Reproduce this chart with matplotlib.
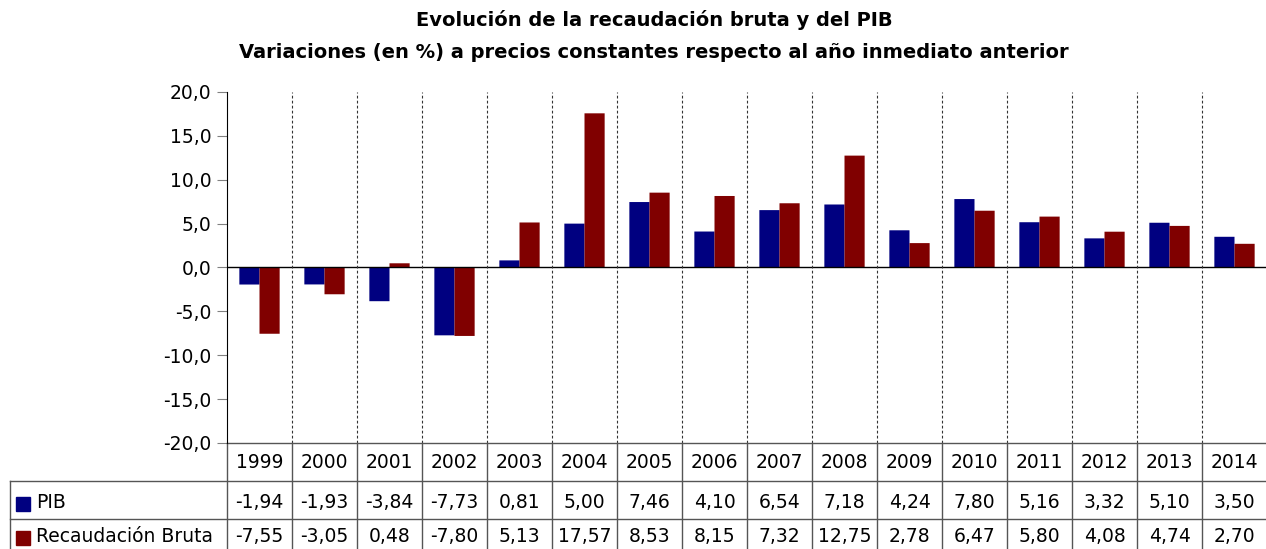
import numpy as np
import matplotlib.pyplot as plt
from matplotlib.patches import Rectangle
from matplotlib.transforms import blended_transform_factory

plt.rcParams['font.family'] = ['DejaVu Sans']

years = ["1999", "2000", "2001", "2002", "2003", "2004", "2005", "2006",
         "2007", "2008", "2009", "2010", "2011", "2012", "2013", "2014"]
pib = [-1.94, -1.93, -3.84, -7.73, 0.81, 5.00, 7.46, 4.10,
       6.54, 7.18, 4.24, 7.80, 5.16, 3.32, 5.10, 3.50]
recaudacion = [-7.55, -3.05, 0.48, -7.80, 5.13, 17.57, 8.53, 8.15,
               7.32, 12.75, 2.78, 6.47, 5.80, 4.08, 4.74, 2.70]
series_names = ["PIB", "Recaudación Bruta"]
colors = ["#000080", "#800000"]
yticks = [-20, -15, -10, -5, 0, 5, 10, 15, 20]

W, H = 1266, 549


def fy(py):
    return 1 - py / H


def fmt(v, d=2):
    return f"{v:.{d}f}".replace('.', ',')


fig = plt.figure(figsize=(W / 100, H / 100), dpi=100)
ax = fig.add_axes([227 / W, fy(443), 1040 / W, 351 / H])

x = np.arange(len(years))
w = 0.31
ax.bar(x - w / 2, pib, w, color=colors[0], linewidth=0, snap=False)
ax.bar(x + w / 2, recaudacion, w, color=colors[1], linewidth=0, snap=False)

ax.set_xlim(-0.5, len(years) - 0.5)
ax.set_ylim(-20, 20)
ax.set_yticks(yticks)
ax.set_yticklabels([fmt(t, 1) for t in yticks])
ax.set_xticks([])
ax.axhline(0, color='black', lw=1)
for b in np.arange(0.5, len(years) - 0.5):
    ax.axvline(b, color='#333333', ls=(0, (2.5, 2)), lw=0.8)
for s in ['top', 'right', 'bottom']:
    ax.spines[s].set_visible(False)
ax.spines['left'].set_color('black')
ax.tick_params(axis='y', direction='out', length=7, color='#808080',
               labelsize=13.5, pad=4)

# data table below the chart
tr = blended_transform_factory(ax.transData, fig.transFigure)
lc = '#555555'
label_left = -0.5 - (227 - 10) / 65
right = len(years) - 0.5
ax.plot([-0.5, right], [fy(443), fy(443)], color=lc, lw=1, transform=tr, clip_on=False)
for py in (481, 519):
    ax.plot([label_left, right], [fy(py), fy(py)], color=lc, lw=1, transform=tr, clip_on=False)
for b in np.arange(-0.5, len(years)):
    ax.plot([b, b], [fy(443), 0], color=lc, lw=1, transform=tr, clip_on=False)
ax.plot([label_left, label_left], [fy(481), 0], color=lc, lw=1, transform=tr, clip_on=False)

for i, yr in enumerate(years):
    ax.text(i, fy(463), yr, ha='center', va='center', fontsize=13.5, transform=tr)
    ax.text(i, fy(503), fmt(pib[i]), ha='center', va='center', fontsize=13.5, transform=tr)
    ax.text(i, fy(536), fmt(recaudacion[i]), ha='center', va='center', fontsize=13.5, transform=tr)

for j, (name, c) in enumerate(zip(series_names, colors)):
    cy = 504 + 34 * j
    fig.add_artist(Rectangle((16 / W, fy(cy + 7)), 14 / W, 14 / H, color=c, transform=fig.transFigure))
    fig.text(36 / W, fy(cy - 1), name, ha='left', va='center', fontsize=13.5)

fig.text(654 / W, fy(20), "Evolución de la recaudación bruta y del PIB",
         ha='center', va='center', fontsize=14, weight='bold')
fig.text(654 / W, fy(52), "Variaciones (en %) a precios constantes respecto al año inmediato anterior",
         ha='center', va='center', fontsize=14, weight='bold')

fig.savefig("out.png", dpi=100)
